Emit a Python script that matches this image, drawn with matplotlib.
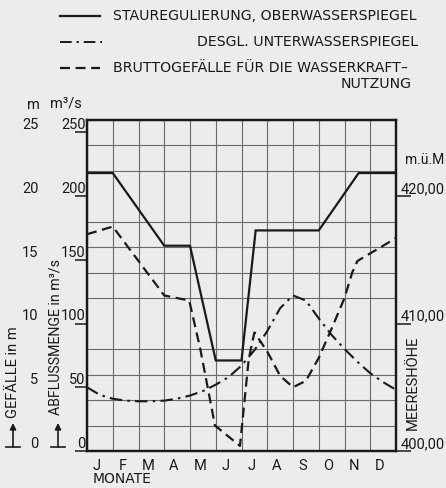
import matplotlib
matplotlib.use("Agg")
import matplotlib.pyplot as plt
from matplotlib.lines import Line2D
import numpy as np

# ---------------- data ----------------
months = ['J', 'F', 'M', 'A', 'M', 'J', 'J', 'A', 'S', 'O', 'N', 'D']

# Stauregulierung, Oberwasserspiegel (m ü. M.)
ow_x = [0, 1.0, 3.0, 4.0, 5.0, 6.0, 6.55, 9.0, 10.55, 12]
ow_y = [421.8, 421.8, 416.1, 416.1, 407.1, 407.1, 417.3, 417.3, 421.8, 421.8]

# desgl. Unterwasserspiegel (m ü. M.)
uw_x = [0, 0.5, 1, 1.5, 2, 2.5, 3, 3.5, 4, 4.5, 5, 5.5, 6, 6.5, 7, 7.5, 8,
        8.5, 9, 9.5, 10, 10.5, 11, 11.5, 12]
uw_y = [405.0, 404.4, 404.1, 403.95, 403.9, 403.9, 403.95, 404.1, 404.35,
        404.7, 405.2, 405.8, 406.7, 407.9, 409.4, 411.2, 412.2, 411.8, 410.4,
        409.1, 408.0, 407.0, 406.1, 405.4, 404.8]

# Bruttogefälle für die Wasserkraftnutzung (m)
gf_x = [0, 1.0, 3.0, 3.97, 4.4, 4.97, 5.94, 6.28, 6.5, 7.0, 7.5, 8.0, 8.5,
        9.0, 9.5, 10.0, 10.3, 10.5, 11.0, 11.5, 12]
gf_y = [17.0, 17.6, 12.2, 11.8, 8.0, 2.0, 0.4, 7.2, 9.3, 7.8, 5.9, 5.0, 5.5,
        7.3, 9.6, 12.0, 14.0, 14.9, 15.5, 16.1, 16.7]

gef_ticks = [0, 5, 10, 15, 20, 25]
q_ticks = [0, 50, 100, 150, 200, 250]
h_ticks = [400, 410, 420]
h_labels = ['400,00', '410,00', '420,00']

# ---------------- style ----------------
W, H = 446, 488
BG = '#ececec'
INK = '#1a1a1a'
plt.rcParams['font.family'] = ['Roboto', 'DejaVu Sans']
WIDE = ['DejaVu Sans']

fig = plt.figure(figsize=(W / 100, H / 100), dpi=100, facecolor=BG)

def fx(px):
    return px / W

def fy(py):
    return 1 - py / H

ax_l, ax_r, ax_t, ax_b = 87, 396, 119.5, 451
ax = fig.add_axes([fx(ax_l), fy(ax_b), fx(ax_r - ax_l), (ax_b - ax_t) / H])
ax.set_facecolor(BG)
ax.set_xlim(0, 12)
ax.set_ylim(0, 26)

# grid
ax.set_xticks(np.arange(0, 13, 1))
ax.set_xticklabels([])
ax.tick_params(axis='x', which='major', length=0)
ax.set_xticks(np.arange(12) + 0.38, minor=True)
ax.set_xticklabels(months, minor=True, fontsize=10.5, color=INK)
ax.tick_params(axis='x', which='minor', length=0, pad=6)
ax.set_yticks(np.arange(0, 27, 2), minor=True)
ax.grid(True, which='major', axis='x', color='#6a6a6a', lw=0.8)
ax.grid(True, which='minor', axis='y', color='#6a6a6a', lw=0.8)
ax.tick_params(axis='y', which='minor', length=0)

# left outer axis (Gefälle m)
ax.set_yticks(gef_ticks)
ax.set_yticklabels([str(t) for t in gef_ticks], fontsize=10.5, color=INK)
ax.tick_params(axis='y', which='major', length=0, pad=35)
for lab in ax.get_yticklabels():
    lab.set_verticalalignment('bottom')

for s in ax.spines.values():
    s.set_color(INK)
    s.set_linewidth(1.6)

# left inner axis (m^3/s)
sec = ax.secondary_yaxis('left', functions=(lambda y: y * 10, lambda q: q / 10))
sec.set_yticks(q_ticks)
sec.set_yticklabels([str(t) for t in q_ticks], fontsize=10.5, color=INK)
sec.tick_params(axis='y', length=9, width=1.1, color=INK, pad=-8)
sec.spines['left'].set_visible(False)
for lab in sec.get_yticklabels():
    lab.set_verticalalignment('bottom')
    lab.set_horizontalalignment('right')

# right axis (m ü. M.)
ax2 = ax.twinx()
ax2.set_ylim(400, 426)
ax2.set_yticks(h_ticks)
ax2.set_yticklabels(h_labels, fontsize=10.5, color=INK)
ax2.tick_params(axis='y', length=11, width=1.1, color=INK, pad=-8)
for lab in ax2.get_yticklabels():
    lab.set_verticalalignment('bottom')
for s in ax2.spines.values():
    s.set_color(INK)
    s.set_linewidth(1.6)

# lines
ax2.plot(ow_x, ow_y, color=INK, lw=1.6, solid_joinstyle='miter')
ax2.plot(uw_x, uw_y, color=INK, lw=1.5, linestyle=(0, (6, 2.5, 1.2, 2.5)))
ax.plot(gf_x, gf_y, color=INK, lw=1.6, linestyle=(0, (4.5, 2.5)))

# ---------------- legend ----------------
fs_leg = 10.2
fig.add_artist(Line2D([fx(60), fx(100)], [fy(16), fy(16)], color=INK, lw=1.6))
fig.text(fx(113), fy(16), 'STAUREGULIERUNG, OBERWASSERSPIEGEL', fontsize=fs_leg,
         family=WIDE, color=INK, ha='left', va='center')
fig.add_artist(Line2D([fx(60), fx(102)], [fy(42), fy(42)], color=INK, lw=1.4,
                      linestyle=(0, (6, 2.5, 1.2, 2.5))))
fig.text(fx(418), fy(42), 'DESGL. UNTERWASSERSPIEGEL', fontsize=fs_leg,
         family=WIDE, color=INK, ha='right', va='center')
fig.add_artist(Line2D([fx(60), fx(100)], [fy(68), fy(68)], color=INK, lw=1.6,
                      linestyle=(0, (4.5, 2.5))))
fig.text(fx(113), fy(68), 'BRUTTOGEFÄLLE FÜR DIE WASSERKRAFT\u2013', fontsize=fs_leg,
         family=WIDE, color=INK, ha='left', va='center')
fig.text(fx(412), fy(84), 'NUTZUNG', fontsize=fs_leg, family=WIDE, color=INK,
         ha='right', va='center')

# axis unit labels
fig.text(fx(33), fy(105), 'm', fontsize=10.5, color=INK, ha='center', va='center')
fig.text(fx(66), fy(104), 'm\u00b3/s', fontsize=10.5, color=INK, ha='center', va='center')
fig.text(fx(425), fy(160), 'm.ü.M', fontsize=10, color=INK, ha='center', va='center')
fig.text(fx(13), fy(372), 'GEFÄLLE in m', fontsize=10.5, color=INK, rotation=90,
         ha='center', va='center')
fig.text(fx(56), fy(337), 'ABFLUSSMENGE in m\u00b3/s', fontsize=10.2, color=INK,
         rotation=90, ha='center', va='center')
fig.text(fx(413), fy(383), 'MEERESHÖHE', fontsize=10.5, color=INK, rotation=90,
         ha='center', va='center')
fig.text(fx(93), fy(479), 'MONATE', fontsize=10, family=WIDE, color=INK,
         ha='left', va='center')

# little arrows at the bottom left
for xa in (13, 58):
    ax.annotate('', xy=(fx(xa), fy(423)), xytext=(fx(xa), fy(447)),
                xycoords='figure fraction', textcoords='figure fraction',
                arrowprops=dict(arrowstyle='-|>', color=INK, lw=1.2,
                                mutation_scale=9, shrinkA=0, shrinkB=0))
    fig.add_artist(Line2D([fx(xa - 7), fx(xa + 7)], [fy(447), fy(447)],
                          color=INK, lw=1.2))

fig.savefig('out.png', dpi=100, facecolor=BG)
